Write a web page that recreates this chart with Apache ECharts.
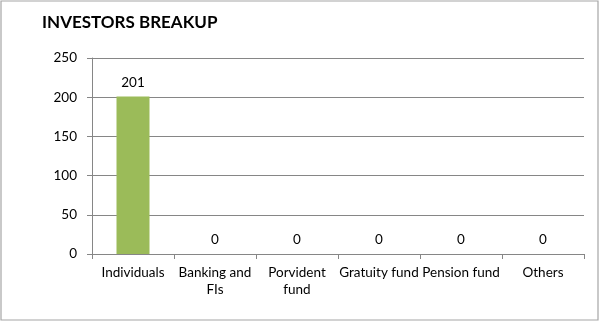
<!DOCTYPE html>
<html>
<head>
<meta charset="utf-8">
<script src="https://cdn.jsdelivr.net/npm/echarts@6/dist/echarts.min.js"></script>
<style>
  html, body { margin: 0; padding: 0; background: #fff; }
  #chart { width: 600px; height: 322px; }
</style>
</head>
<body>
<div id="chart"></div>
<script>
// Investor categories and counts
const categories = ['Individuals', 'Banking and\nFIs', 'Porvident\nfund', 'Gratuity fund', 'Pension fund', 'Others'];
const investors = [201, 0, 0, 0, 0, 0];
const yTicks = { min: 0, max: 250, interval: 50 };

const font = 'Lato, "Open Sans", "Liberation Sans", sans-serif';
const chart = echarts.init(document.getElementById('chart'), null, { renderer: 'canvas' });

chart.setOption({
  animation: false,
  backgroundColor: '#ffffff',
  graphic: [{
    // outer chart frame
    type: 'rect',
    shape: { x: 1, y: 1, width: 597, height: 319 },
    style: { fill: 'none', stroke: '#a6a6a6', lineWidth: 1.2 },
    silent: true
  }, {
    type: 'text',
    x: 42,
    y: 23,
    style: {
      text: 'INVESTORS BREAKUP',
      font: 'bold 17px ' + font,
      fill: '#000',
      verticalAlign: 'middle',
      align: 'left'
    },
    silent: true
  }],
  grid: { left: 92, right: 16, top: 58, bottom: 68, containLabel: false },
  xAxis: {
    type: 'category',
    data: categories,
    axisLine: { lineStyle: { color: '#868686' } },
    axisTick: { show: true, alignWithLabel: false, length: 5, lineStyle: { color: '#868686' } },
    axisLabel: { fontFamily: font, fontSize: 13.5, color: '#000', margin: 10, lineHeight: 17, interval: 0 }
  },
  yAxis: {
    type: 'value',
    min: yTicks.min,
    max: yTicks.max,
    interval: yTicks.interval,
    axisLine: { show: true, lineStyle: { color: '#868686' } },
    axisTick: { show: true, length: 5, lineStyle: { color: '#868686' } },
    splitLine: { lineStyle: { color: '#868686' } },
    axisLabel: { fontFamily: font, fontSize: 13.5, color: '#000', margin: 15 }
  },
  series: [{
    type: 'bar',
    data: investors,
    barWidth: 33,
    itemStyle: { color: '#9bbb59' },
    label: {
      show: true,
      position: 'top',
      distance: 7,
      fontFamily: font,
      fontSize: 13.5,
      color: '#000'
    }
  }]
});
</script>
</body>
</html>
